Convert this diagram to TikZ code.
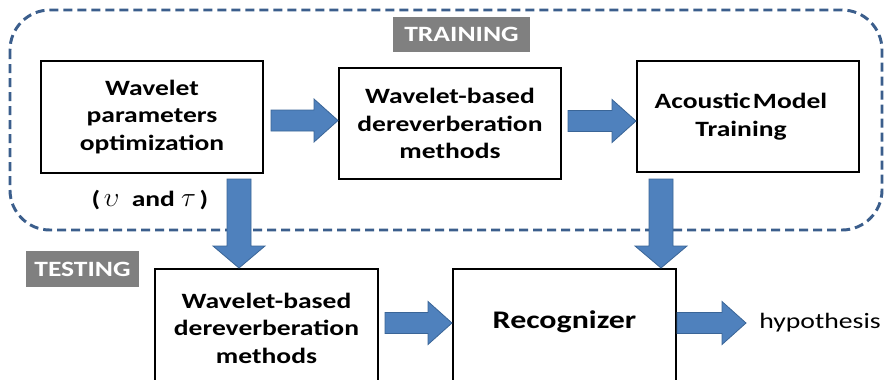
\documentclass[tikz,border=0pt]{standalone}
\usepackage{fontspec}
\setmainfont{Carlito}[FakeStretch=1.26]
\usetikzlibrary{calc}
\definecolor{arrblue}{HTML}{4F81BD}
\definecolor{arredge}{HTML}{3A6597}
\definecolor{dashblue}{HTML}{3B5E8C}
\definecolor{labgray}{HTML}{808080}
\tikzset{
 box/.style={draw=black,line width=1.5pt,fill=white,align=center,font=\fontsize{16.4}{20.6}\selectfont\bfseries,inner sep=0pt},
 blockarr/.style={fill=arrblue,draw=arredge,line width=0.6pt,line join=miter},
 tag/.style={fill=labgray,text=white,font=\fontsize{16.4}{18}\selectfont\bfseries,inner sep=0pt},
 plain/.style={font=\fontsize{16.4}{18}\selectfont\bfseries,inner sep=0pt},
}
\newcommand\harr[2]{%
 \coordinate (hs) at (#1 |- #2);
 \filldraw[blockarr] ($(hs)+(0,-10.5)$) -- ($(#2)+(-24,-10.5)$) -- ($(#2)+(-24,-21.5)$) -- (#2) -- ($(#2)+(-24,21.5)$) -- ($(#2)+(-24,10.5)$) -- ($(hs)+(0,10.5)$) -- cycle;}
\newcommand\varr[2]{%
 \coordinate (vs) at (#2 |- #1);
 \filldraw[blockarr] ($(vs)+(-12,0)$) -- ($(#2)+(-12,-22)$) -- ($(#2)+(-26,-22)$) -- (#2) -- ($(#2)+(26,-22)$) -- ($(#2)+(12,-22)$) -- ($(vs)+(12,0)$) -- cycle;}
\newcommand\largemath[1]{{\fontsize{22}{22}\selectfont$#1$}}
\begin{document}
\begin{tikzpicture}[x=0.75pt,y=-0.75pt]
\useasboundingbox (0,0) rectangle (885,379);
\clip (0,0) rectangle (885,379);
\fill[white] (0,0) rectangle (885,379);
% training frame
\draw[dashblue,line width=2.2pt,dash pattern=on 6.75pt off 3.75pt,rounded corners=30pt] (10,10) rectangle (882,230);
\node[tag,minimum width=102.75pt,minimum height=26.25pt] (train) at (461.5,34.5) {TRAINING};
\node[tag,minimum width=84.75pt,minimum height=27pt] (test) at (82.5,269) {TESTING};
% boxes
\node[box,minimum width=166.5pt,minimum height=84pt] (b1) at (152,117) {Wavelet\\parameters\\optimization};
\node[box,minimum width=166.5pt,minimum height=83.25pt] (b2) at (450,123.5) {Wavelet-based\\dereverberation\\methods};
\node[box,minimum width=166.5pt,minimum height=83.25pt] (b3) at (748,116.5) {Acoustic\hspace{0.1em}Model\hspace*{10.5pt}\\Training\hspace*{10.5pt}};
\node[box,minimum width=167.25pt,minimum height=88.5pt] (b4) at (266.5,328) {Wavelet-based\\dereverberation\\methods};
\node[box,minimum width=167.25pt,minimum height=90pt] (rec) at (564.5,329) {};
\node[plain,font=\fontsize{19}{22}\selectfont\bfseries] (rectext) at ($(rec.north)+(0,54)$) {Recognizer};
\node[plain] (param) at (150,200) {(\,\largemath{\upsilon}\;\ and\ \largemath{\tau}\,)};
% arrows
\coordinate (a1s) at ($(b1.east)+(7,0)$);
\coordinate (a1t) at ($(b2.west)+(0,-3)$);
\harr{a1s}{a1t}
\coordinate (a2s) at ($(b2.east)+(6,0)$);
\coordinate (a2t) at ($(b3.west)+(0,4.5)$);
\harr{a2s}{a2t}
\coordinate (d1s) at ($(b1.south)+(0,5)$);
\coordinate (d1t) at ($(b4.north west)+(85,0)$);
\varr{d1s}{d1t}
\coordinate (d2s) at ($(b3.south)+(0,6)$);
\coordinate (d2t) at ($(rec.north east)+(-16,0)$);
\varr{d2s}{d2t}
\coordinate (a3s) at ($(b4.east)+(6,0)$);
\coordinate (a3t) at ($(rec.west)+(0,-6)$);
\harr{a3s}{a3t}
\coordinate (a4s) at (rec.east);
\coordinate (a4t) at ($(rec.east)+(69,-6)$);
\harr{a4s}{a4t}
\node[anchor=base west,inner sep=0pt,font=\fontsize{16.5}{18}\selectfont] (hyp) at ($(a4t)+(13,5)$) {hypothesis};
\end{tikzpicture}
\end{document}
